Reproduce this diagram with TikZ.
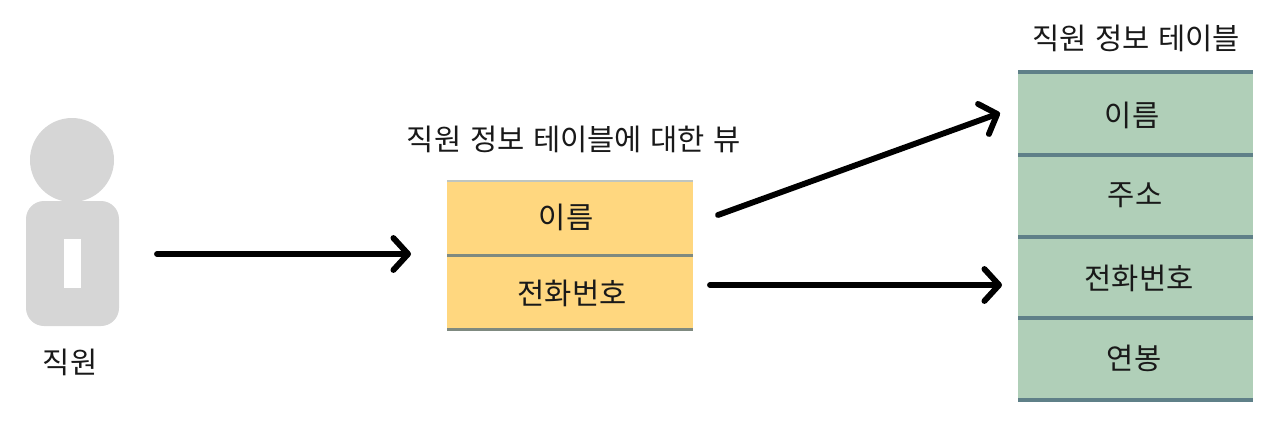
\documentclass[tikz,border=0pt]{standalone}
\usepackage{fontspec}
\setmainfont[WordSpace=1.3]{Noto Sans CJK KR}
\usetikzlibrary{arrows.meta}
\definecolor{persongray}{HTML}{D6D6D6}
\definecolor{viewyellow}{HTML}{FFD77F}
\definecolor{tablegreen}{HTML}{B0CFB8}
\definecolor{rulegreen}{HTML}{5F8088}
\definecolor{ruleyellow}{HTML}{7F8A80}
\tikzset{
  x=0.75pt,y=-0.75pt,
  label text/.style={font=\fontsize{22.2pt}{26pt}\selectfont,text=black!90,inner sep=0pt,anchor=center},
  conn/.style={line width=4.4pt,line cap=round,line join=round,
    -{Straight Barb[length=11pt,width=24pt,line width=4.4pt,round]}},
  grule/.style={draw=rulegreen,line width=2.4pt},
  yrule/.style={draw=ruleyellow,line width=2.4pt}
}
\begin{document}
\begin{tikzpicture}
\useasboundingbox (0,0) rectangle (1280,433);
% person
\fill[persongray,rounded corners=13.5pt] (26,201) rectangle (119,326);
\node[circle,fill=persongray,minimum size=63pt,inner sep=0pt] (head) at (72,160) {};
\fill[white] (64,239) rectangle (81,288);
\node[label text] (personlabel) at (70,362) {직원};
% view table
\fill[viewyellow] (447,181) rectangle (693,330);
\draw[ruleyellow!50,line width=1pt] (447,181) -- (693,181);
\draw[yrule] (447,255.5) -- (693,255.5);
\draw[yrule] (447,329.5) -- (693,329.5);
\node[label text] (vname) at (566,217) {이름};
\node[label text] (vphone) at (572,293) {전화번호};
\node[label text] (vtitle) at (574,139) {직원 정보 테이블에 대한 뷰};
% base table
\fill[tablegreen] (1018,72) rectangle (1253,402);
\foreach \yy in {72,155,237,318,400}
  \draw[grule] (1018,\yy) -- (1253,\yy);
\node[label text] (tname) at (1132,115) {이름};
\node[label text] (taddr) at (1135,195) {주소};
\node[label text] (tphone) at (1139,278) {전화번호};
\node[label text] (tsalary) at (1134,358) {연봉};
\node[label text] (ttitle) at (1136,38) {직원 정보 테이블};
% connectors
\coordinate (a1s) at (157,254);
\coordinate (a1e) at (411,254);
\coordinate (a2s) at (718,215);
\coordinate (a2e) at (1000,113);
\coordinate (a3s) at (710,285);
\coordinate (a3e) at (1002,285);
\draw[conn] (a1s) -- (a1e);
\draw[conn] (a2s) -- (a2e);
\draw[conn] (a3s) -- (a3e);
\end{tikzpicture}
\end{document}
